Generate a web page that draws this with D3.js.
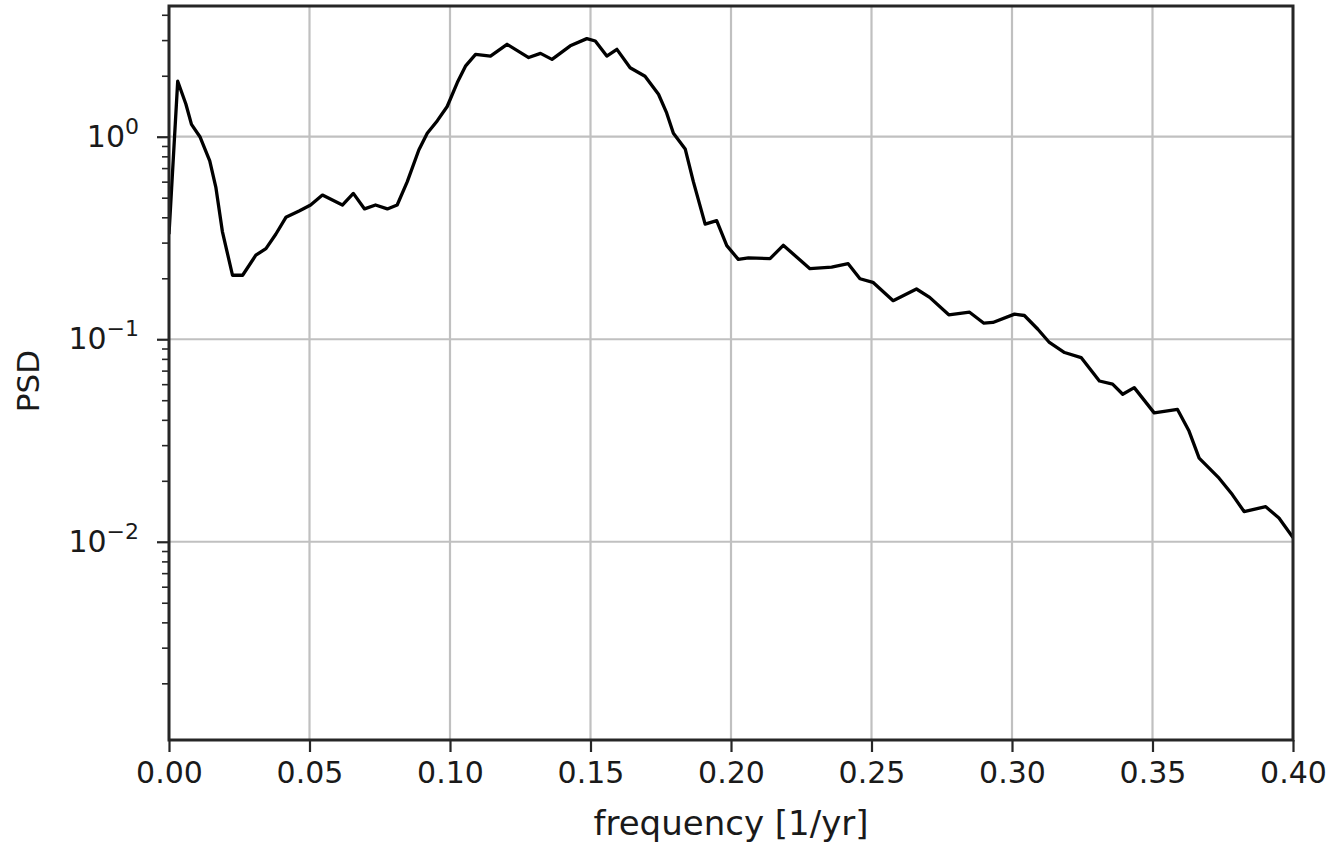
<!DOCTYPE html>
<html>
<head>
<meta charset="utf-8">
<script src="https://cdn.jsdelivr.net/npm/d3@7/dist/d3.min.js"></script>
<style>
  body { margin: 0; background: #fff; }
  text { font-family: "DejaVu Sans", sans-serif; fill: #1a1a1a; }
</style>
</head>
<body>
<svg id="chart" width="1344" height="847"></svg>
<script>
// power spectral density
var freq = [
  0.0000, 0.0031, 0.0060, 0.0080, 0.0110, 0.0145, 0.0167, 0.0190, 0.0226, 0.0262,
  0.0309, 0.0345, 0.0380, 0.0416, 0.0463, 0.0504, 0.0546, 0.0617, 0.0656, 0.0696,
  0.0735, 0.0777, 0.0812, 0.0848, 0.0889, 0.0919, 0.0955, 0.0990, 0.1026, 0.1055,
  0.1091, 0.1144, 0.1203, 0.1280, 0.1322, 0.1363, 0.1428, 0.1487, 0.1517, 0.1558,
  0.1594, 0.1641, 0.1694, 0.1742, 0.1771, 0.1795, 0.1837, 0.1866, 0.1908, 0.1949,
  0.1985, 0.2026, 0.2062, 0.2139, 0.2186, 0.2281, 0.2358, 0.2417, 0.2459, 0.2505,
  0.2577, 0.2660, 0.2707, 0.2775, 0.2849, 0.2900, 0.2932, 0.3009, 0.3044, 0.3092,
  0.3133, 0.3187, 0.3246, 0.3311, 0.3358, 0.3394, 0.3435, 0.3506, 0.3589, 0.3630,
  0.3666, 0.3737, 0.3784, 0.3826, 0.3903, 0.3950, 0.4000
];
var psd = [
  0.33, 1.88, 1.45, 1.15, 1.00, 0.76, 0.56, 0.34, 0.207, 0.207,
  0.26, 0.28, 0.33, 0.40, 0.43, 0.46, 0.515, 0.46, 0.525, 0.44,
  0.46, 0.44, 0.46, 0.60, 0.86, 1.04, 1.20, 1.41, 1.85, 2.23,
  2.55, 2.50, 2.86, 2.46, 2.58, 2.41, 2.81, 3.05, 2.97, 2.50,
  2.70, 2.19, 1.99, 1.62, 1.31, 1.04, 0.87, 0.60, 0.37, 0.385,
  0.29, 0.248, 0.252, 0.25, 0.291, 0.223, 0.227, 0.236, 0.199, 0.191,
  0.155, 0.177, 0.161, 0.132, 0.136, 0.120, 0.121, 0.133, 0.131, 0.112,
  0.0964, 0.086, 0.0812, 0.0622, 0.060, 0.0535, 0.0577, 0.0433, 0.045, 0.0352,
  0.0259, 0.0206, 0.0171, 0.0141, 0.0149, 0.0131, 0.0105
];
var xTicks = [0, 0.05, 0.10, 0.15, 0.20, 0.25, 0.30, 0.35, 0.40];
var yExponents = [-2, -1, 0];

var margin = {top: 6, right: 51, bottom: 107, left: 169};
var width = 1344 - margin.left - margin.right;
var height = 847 - margin.top - margin.bottom;

var x = d3.scaleLinear().domain([0, 0.4]).range([0, width]);
var y = d3.scaleLog().domain([1.05e-3, 4.42]).range([height, 0]);

var svg = d3.select('#chart');
var g = svg.append('g').attr('transform', 'translate(' + margin.left + ',' + margin.top + ')');

// grid
g.append('g').selectAll('line').data(xTicks).enter().append('line')
  .attr('x1', function (d) { return x(d); })
  .attr('x2', function (d) { return x(d); })
  .attr('y1', 0).attr('y2', height)
  .attr('stroke', '#c0c0c0').attr('stroke-width', 2.2);

g.append('g').selectAll('line').data(yExponents).enter().append('line')
  .attr('x1', 0).attr('x2', width)
  .attr('y1', function (d) { return y(Math.pow(10, d)); })
  .attr('y2', function (d) { return y(Math.pow(10, d)); })
  .attr('stroke', '#c0c0c0').attr('stroke-width', 2.2);

// curve
g.append('clipPath').attr('id', 'clip')
  .append('rect').attr('width', width).attr('height', height);

var line = d3.line()
  .x(function (d, i) { return x(freq[i]); })
  .y(function (d) { return y(d); });

g.append('path')
  .datum(psd)
  .attr('clip-path', 'url(#clip)')
  .attr('fill', 'none')
  .attr('stroke', '#000')
  .attr('stroke-width', 3.3)
  .attr('stroke-linejoin', 'round')
  .attr('d', line);

// x axis
var xAxis = g.append('g')
  .attr('transform', 'translate(0,' + height + ')')
  .call(d3.axisBottom(x).tickValues(xTicks).tickFormat(d3.format('.2f'))
    .tickSize(12).tickPadding(10));
xAxis.select('.domain').remove();
xAxis.selectAll('line').attr('stroke', '#262626').attr('stroke-width', 2.2);
xAxis.selectAll('text').attr('font-size', 30).attr('fill', '#1a1a1a');

// y axis, minor ticks
var minor = [];
for (var e = -3; e <= 0; e++) {
  for (var m = 2; m <= 9; m++) {
    var v = m * Math.pow(10, e);
    if (v >= y.domain()[0] && v <= y.domain()[1]) minor.push(v);
  }
}
var yMinor = g.append('g')
  .call(d3.axisLeft(y).tickValues(minor).tickFormat('').tickSize(7));
yMinor.select('.domain').remove();
yMinor.selectAll('line').attr('stroke', '#262626').attr('stroke-width', 1.6);

var yAxis = g.append('g')
  .call(d3.axisLeft(y).tickValues(yExponents.map(function (d) { return Math.pow(10, d); }))
    .tickSize(12).tickPadding(18).tickFormat(''));
yAxis.select('.domain').remove();
yAxis.selectAll('line').attr('stroke', '#262626').attr('stroke-width', 2.2);
yAxis.selectAll('.tick').each(function (d) {
  var t = d3.select(this).select('text')
    .attr('font-size', 30).attr('dy', '0.32em').attr('fill', '#1a1a1a');
  var ex = Math.round(Math.log10(d));
  t.append('tspan').text('10');
  t.append('tspan').attr('font-size', 22).attr('dy', -13)
    .text(ex < 0 ? '\u2212' + (-ex) : String(ex));
});

// spines
g.append('rect')
  .attr('width', width).attr('height', height)
  .attr('fill', 'none').attr('stroke', '#262626').attr('stroke-width', 3);

// labels
svg.append('text')
  .attr('x', margin.left + width / 2).attr('y', 835)
  .attr('text-anchor', 'middle').attr('font-size', 34)
  .text('frequency [1/yr]');

svg.append('text')
  .attr('transform', 'translate(39,' + (margin.top + height / 2 + 8) + ') rotate(-90)')
  .attr('text-anchor', 'middle').attr('font-size', 31)
  .text('PSD');
</script>
</body>
</html>
